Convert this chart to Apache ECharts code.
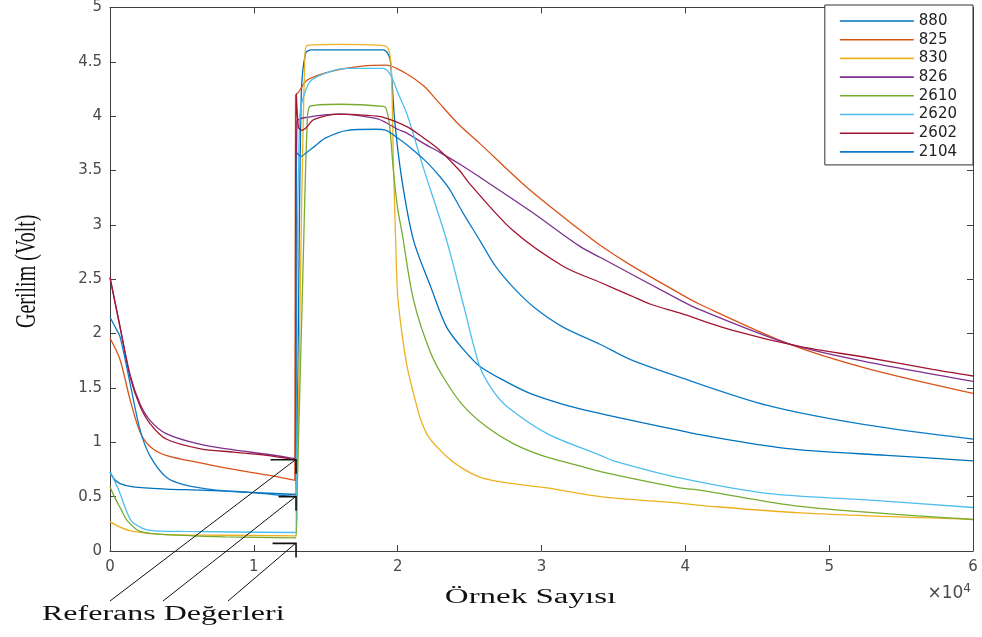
<!DOCTYPE html>
<html><head><meta charset="utf-8">
<script src="https://cdn.jsdelivr.net/npm/echarts@6/dist/echarts.min.js"></script>
<style>html,body{margin:0;padding:0;background:#fff}#c{width:982px;height:637px}</style>
</head><body><div id="c"></div>
<script>
// ---- data (x in units of 1e4 samples, y in volts) ----
const seriesNames = ['880','825','830','826','2610','2620','2602','2104'];
const seriesColors = ['#0072BD','#D95319','#EDB120','#7E2F8E','#77AC30','#4DBEEE','#A2142F','#0E7BC8'];

const s880 = [[0,0.73],[0.03,0.66],[0.07,0.62],[0.16,0.59],[0.39,0.57],[0.63,0.56],[0.97,0.54],[1.29,0.52],
  [1.305,1.5],[1.33,4.2],[1.36,4.58],[1.40,4.61],[1.6,4.61],[1.9,4.61],[1.93,4.58],[1.95,4.5],[1.98,3.95],[2.03,3.41],
  [2.11,2.86],[2.23,2.43],[2.34,2.06],[2.46,1.85],[2.57,1.70],[2.75,1.56],[2.92,1.45],[3.15,1.35],[3.39,1.27],
  [3.7,1.18],[3.96,1.11],[4.10,1.07],[4.45,0.99],[4.8,0.93],[5.4,0.88],[6.0,0.83]];
const s825 = [[0,1.96],[0.07,1.76],[0.14,1.39],[0.21,1.09],[0.28,0.96],[0.39,0.88],[0.63,0.81],[0.86,0.75],[1.09,0.70],[1.285,0.65],
  [1.29,4.19],[1.31,4.22],[1.37,4.33],[1.53,4.41],[1.75,4.46],[1.92,4.47],[2.05,4.40],[2.18,4.28],[2.27,4.15],
  [2.42,3.93],[2.57,3.75],[2.92,3.32],[3.27,2.95],[3.41,2.81],[3.62,2.63],[3.96,2.37],[4.10,2.27],[4.71,1.91],[5.26,1.68],[6.0,1.45]];
const s830 = [[0,0.27],[0.07,0.22],[0.16,0.18],[0.39,0.15],[0.8,0.145],[1.29,0.14],
  [1.30,0.5],[1.33,3.0],[1.355,4.55],[1.37,4.65],[1.6,4.66],[1.9,4.65],[1.935,4.62],[1.955,4.45],[1.97,3.6],[1.985,2.9],
  [2.0,2.35],[2.03,2.0],[2.065,1.70],[2.11,1.45],[2.16,1.21],[2.22,1.04],[2.34,0.87],[2.45,0.76],[2.57,0.68],[2.7,0.64],[2.85,0.61],
  [3.04,0.58],[3.41,0.50],[3.96,0.44],[4.10,0.42],[4.8,0.35],[6.0,0.29]];
const s826 = [[0,2.51],[0.07,2.06],[0.14,1.62],[0.21,1.35],[0.28,1.20],[0.39,1.08],[0.63,0.98],[0.86,0.93],[1.09,0.89],[1.285,0.85],
  [1.30,3.95],[1.37,3.99],[1.6,4.02],[1.85,3.98],[1.92,3.94],[2.0,3.88],[2.07,3.84],[2.18,3.75],[2.29,3.67],[2.43,3.56],
  [2.57,3.44],[2.92,3.13],[3.27,2.80],[3.41,2.70],[3.96,2.31],[4.10,2.22],[4.71,1.91],[5.26,1.74],[6.0,1.56]];
const s2610 = [[0,0.59],[0.03,0.50],[0.07,0.40],[0.12,0.28],[0.21,0.18],[0.39,0.15],[0.8,0.13],[1.29,0.12],
  [1.30,0.5],[1.34,2.5],[1.37,3.9],[1.39,4.09],[1.6,4.11],[1.90,4.09],[1.92,4.07],[1.945,3.9],[1.97,3.5],[2.0,3.15],
  [2.03,2.93],[2.11,2.31],[2.23,1.82],[2.34,1.55],[2.46,1.33],[2.62,1.14],[2.8,0.99],[3.0,0.88],[3.27,0.78],[3.41,0.73],
  [3.96,0.58],[4.10,0.56],[4.8,0.41],[6.0,0.29]];
const s2620 = [[0,0.72],[0.03,0.65],[0.07,0.53],[0.12,0.35],[0.16,0.26],[0.28,0.19],[0.51,0.18],[1.29,0.17],
  [1.30,2.5],[1.32,4.0],[1.35,4.2],[1.40,4.33],[1.53,4.41],[1.65,4.44],[1.90,4.44],[1.95,4.38],[2.0,4.22],[2.07,4.0],
  [2.18,3.52],[2.34,2.86],[2.46,2.25],[2.57,1.70],[2.66,1.48],[2.76,1.33],[3.04,1.08],[3.41,0.88],[3.5,0.83],
  [3.97,0.67],[4.57,0.53],[5.26,0.47],[6.0,0.40]];
const s2602 = [[0,2.52],[0.07,2.06],[0.14,1.60],[0.21,1.33],[0.28,1.17],[0.39,1.03],[0.63,0.94],[0.86,0.91],[1.09,0.88],[1.285,0.84],
  [1.295,4.21],[1.31,3.9],[1.33,3.87],[1.36,3.89],[1.42,3.97],[1.6,4.02],[1.76,4.01],[1.90,3.99],[2.07,3.90],[2.18,3.80],
  [2.29,3.69],[2.43,3.50],[2.5,3.38],[2.8,2.95],[3.15,2.62],[3.41,2.47],[3.62,2.35],[3.76,2.27],[3.96,2.19],[4.33,2.03],
  [4.8,1.88],[5.26,1.78],[5.72,1.67],[6.0,1.61]];
const s2104 = [[0,2.15],[0.04,2.05],[0.07,1.97],[0.14,1.54],[0.21,1.11],[0.28,0.87],[0.39,0.68],[0.51,0.61],[0.74,0.56],[0.97,0.54],[1.285,0.50],
  [1.30,3.66],[1.33,3.63],[1.36,3.66],[1.42,3.72],[1.5,3.80],[1.65,3.87],[1.85,3.88],[1.92,3.87],[2.0,3.80],[2.07,3.73],
  [2.20,3.58],[2.29,3.45],[2.36,3.33],[2.45,3.12],[2.57,2.86],[2.68,2.62],[2.8,2.43],[2.95,2.24],[3.15,2.06],[3.41,1.90],
  [3.62,1.76],[3.98,1.59],[4.57,1.34],[5.26,1.16],[6.0,1.03]];
const seriesData = [s880, s825, s830, s826, s2610, s2620, s2602, s2104];

const xTickValues = [0,1,2,3,4,5,6];
const yTickValues = [0,0.5,1,1.5,2,2.5,3,3.5,4,4.5,5];
const refPoints = [[1.29,0.84],[1.29,0.50],[1.29,0.07]];
const xAxisTitle = 'Örnek Sayısı';
const yAxisTitle = 'Gerilim (Volt)';
const annotationText = 'Referans Değerleri';
const xExponent = '4';

// ---- chart ----
const chart = echarts.init(document.getElementById('c'), null, {renderer:'canvas'});
const axisColor = '#404040';
const tickFont = {fontFamily:'DejaVu Sans', fontSize:15, color:'#4a4a4a'};
const xMin = xTickValues[0], xMax = xTickValues[xTickValues.length-1], xInt = xTickValues[1]-xTickValues[0];
const yMin = yTickValues[0], yMax = yTickValues[yTickValues.length-1], yInt = yTickValues[1]-yTickValues[0];

function xAx(pos, show) {
  return {type:'value', position:pos, min:xMin, max:xMax, interval:xInt,
    axisLine:{show:true, onZero:false, lineStyle:{color:axisColor, width:1}},
    axisTick:{show:true, inside:true, length:6, lineStyle:{color:axisColor}},
    axisLabel:Object.assign({show:show, margin:9}, tickFont),
    splitLine:{show:false}};
}
function yAx(pos, show) {
  return {type:'value', position:pos, min:yMin, max:yMax, interval:yInt,
    axisLine:{show:true, onZero:false, lineStyle:{color:axisColor, width:1}},
    axisTick:{show:true, inside:true, length:6, lineStyle:{color:axisColor}},
    axisLabel:Object.assign({show:show, margin:8, formatter: v => String(v)}, tickFont),
    splitLine:{show:false}};
}

chart.setOption({
  animation:false,
  backgroundColor:'#ffffff',
  grid:{left:110, right:9, top:7, bottom:86},
  xAxis:[xAx('bottom', true), xAx('top', false)],
  yAxis:[yAx('left', true), yAx('right', false)],
  legend:{
    orient:'vertical', right:9, top:5,
    data:seriesNames.map(n => ({name:n, icon:'rect'})),
    itemWidth:74, itemHeight:1.6, itemGap:2.7,
    padding:[8,16,5,15],
    borderColor:'#303030', borderWidth:1, borderRadius:0,
    backgroundColor:'#ffffff',
    textStyle:{fontFamily:'DejaVu Sans', fontSize:15, color:'#222', lineHeight:16}
  },
  series:seriesNames.map((n,i) => ({
    name:n, type:'line', data:seriesData[i], showSymbol:false, symbol:'none',
    smooth:0.3,
    color:seriesColors[i], lineStyle:{width:1.3, color:seriesColors[i]}, clip:true, z:2
  }))
});

// ---- annotations ----
const tips = refPoints.map(p => chart.convertToPixel({gridIndex:0}, p));
const annX = 42, annY = 615;
const startOffsets = [68, 121, 186];
const headLen = [25, 17, 23];
const graphics = [];
tips.forEach((t, i) => {
  graphics.push({type:'line', z:10, shape:{x1:annX+startOffsets[i], y1:annY-14, x2:t[0], y2:t[1]},
    style:{stroke:'#111', lineWidth:1}});
  graphics.push({type:'polyline', z:10, shape:{points:[[t[0]-headLen[i], t[1]], [t[0]+0.5, t[1]], [t[0]+0.5, t[1]+14]]},
    style:{stroke:'#111', lineWidth:1.6, fill:null}});
});
graphics.push({type:'text', z:10, x:annX, y:annY, scaleX:1.6,
  style:{text:annotationText, font:'20px "Liberation Serif"', fill:'#111', textAlign:'left', textVerticalAlign:'middle'}});
const gb = chart.convertToPixel({gridIndex:0}, [xMin, yMin]);
const gt = chart.convertToPixel({gridIndex:0}, [xMax, yMax]);
const cx = (gb[0] + gt[0]) / 2 - 11;
graphics.push({type:'text', z:10, x:cx, y:598, scaleX:1.65,
  style:{text:xAxisTitle, font:'20px "Liberation Serif"', fill:'#111', textAlign:'center', textVerticalAlign:'middle'}});
graphics.push({type:'text', z:10, x:27, y:(gb[1]+gt[1])/2 - 8, rotation:Math.PI/2, scaleY:1.5,
  style:{text:yAxisTitle, font:'20px "Liberation Serif"', fill:'#111', textAlign:'center', textVerticalAlign:'middle'}});
graphics.push({type:'text', z:10, x:gt[0]-2, y:594,
  style:{text:'×10{s|' + xExponent + '}', textAlign:'right', textVerticalAlign:'middle',
    font:'17px "DejaVu Sans"', fill:'#4a4a4a',
    rich:{s:{fontSize:12, fontFamily:'DejaVu Sans', color:'#4a4a4a', verticalAlign:'top', padding:[0,0,10,0]}}}});
chart.setOption({graphic:graphics});
</script></body></html>
